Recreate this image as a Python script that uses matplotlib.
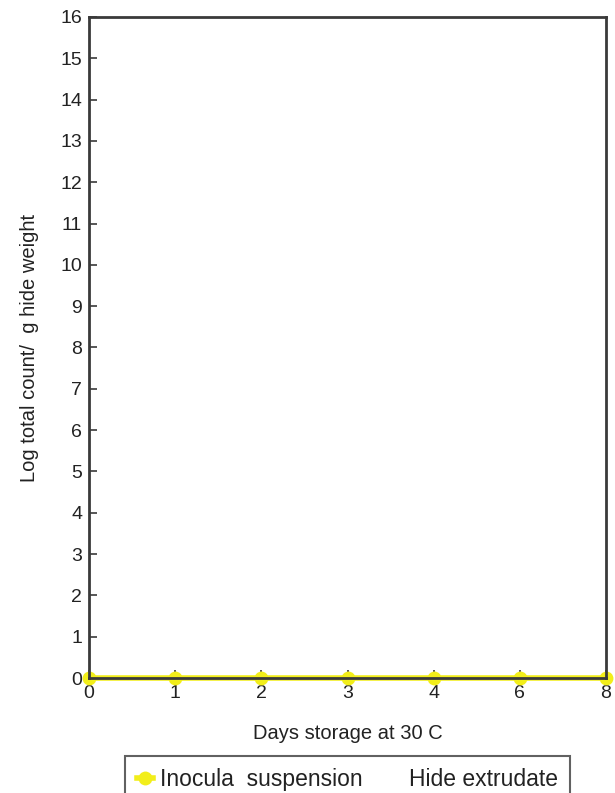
import matplotlib.pyplot as plt

plt.rcParams['font.family'] = ['Liberation Sans', 'DejaVu Sans']

## DATA
days = ['0', '1', '2', '3', '4', '6', '8']
inocula = [0, 0, 0, 0, 0, 0, 0]
hide_extrudate = [0, 0, 0, 0, 0, 0, 0]

fig = plt.figure(figsize=(6.15, 7.93), dpi=100)
ax = fig.add_axes([0.1447, 0.145, 0.8407, 0.8336])

x = range(len(days))
ax.plot(x, hide_extrudate, color='white', linewidth=0, label='Hide extrudate', zorder=1)
ax.plot(x, inocula, color='#f2ee1a', linewidth=4, marker='o', markersize=10,
        markeredgewidth=0, label='Inocula  suspension', clip_on=False, zorder=2)

ax.set_xlim(0, len(days) - 1)
ax.set_ylim(0, 16)
ax.set_xticks(list(x))
ax.set_xticklabels(days)
ax.set_yticks(range(0, 17))

for s in ax.spines.values():
    s.set_linewidth(2)
    s.set_color('#3a3a3a')

ax.tick_params(direction='in', length=6, width=1.2, color='#3a3a3a',
               labelsize=14, pad=5, labelcolor='#222222')
ax.set_xlabel('Days storage at 30 C', fontsize=14.5, labelpad=16, color='#222222')
ax.set_ylabel('Log total count/  g hide weight', fontsize=14.5, labelpad=15, color='#222222')

handles, labels = ax.get_legend_handles_labels()
leg = fig.legend(handles[::-1], labels[::-1], ncol=2, loc='upper left',
                 bbox_to_anchor=(0.203, 0.047), borderaxespad=0, fontsize=16.5,
                 frameon=True, fancybox=False, edgecolor='#3a3a3a', handlelength=0.7,
                 handletextpad=0.3, columnspacing=1.0, borderpad=0.55)
leg.get_frame().set_linewidth(1.5)
for t in leg.get_texts():
    t.set_color('#222222')

fig.savefig('out.png', dpi=100)
